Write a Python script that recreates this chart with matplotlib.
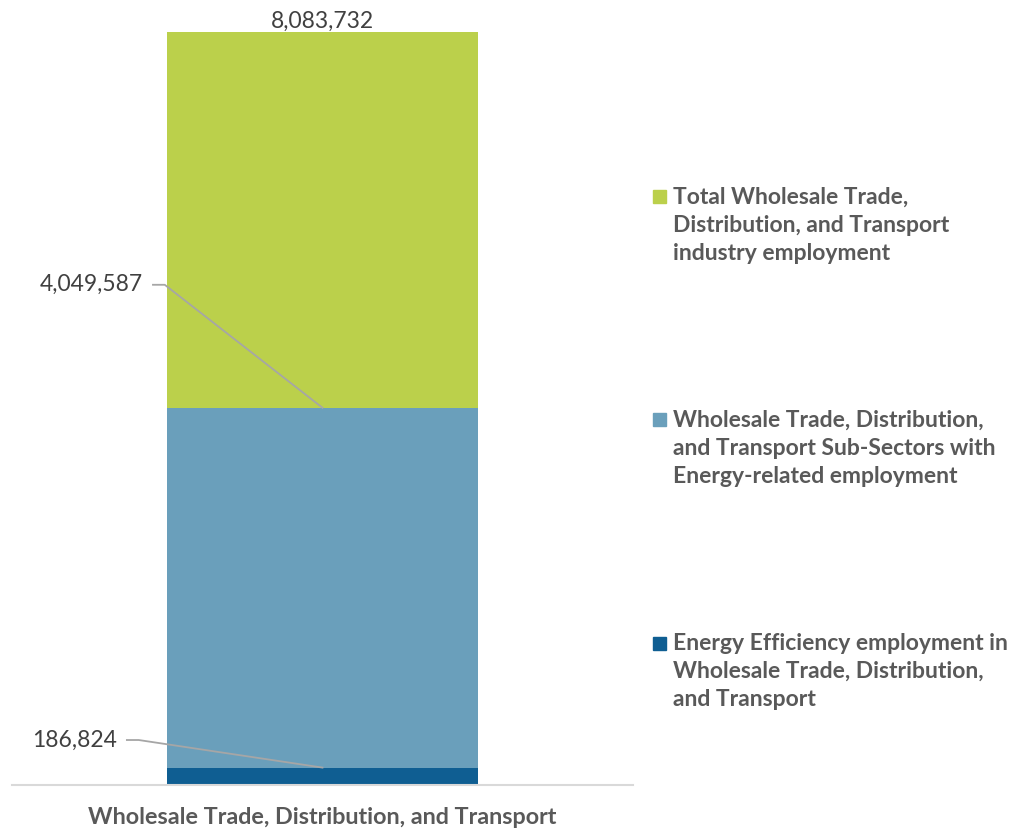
import numpy as np
import matplotlib.pyplot as plt
from matplotlib.patches import Rectangle

plt.rcParams['font.family'] = ['Lato', 'DejaVu Sans']

category = "Wholesale Trade, Distribution, and Transport"
# cumulative totals shown on the chart
ee_total = 186824
energy_total = 4049587
industry_total = 8083732

series_names = [
    "Total Wholesale Trade,\nDistribution, and Transport\nindustry employment",
    "Wholesale Trade, Distribution,\nand Transport Sub-Sectors with\nEnergy-related employment",
    "Energy Efficiency employment in\nWholesale Trade, Distribution,\nand Transport",
]
colors = ["#bbd04b", "#6a9fbb", "#0f5e92"]

# stacked segments (bottom to top)
seg_ee = ee_total
seg_energy = energy_total - ee_total
seg_rest = industry_total - energy_total

fig = plt.figure(figsize=(10.26, 8.30), dpi=100)
ax = fig.add_axes([12 / 1026, 45 / 830, 621 / 1026, 753 / 830])

ax.bar(0, seg_ee, width=0.5, color=colors[2])
ax.bar(0, seg_energy, bottom=seg_ee, width=0.5, color=colors[1])
ax.bar(0, seg_rest, bottom=energy_total, width=0.5, color=colors[0])

ax.set_xlim(-0.5, 0.5)
ax.set_ylim(0, industry_total)
for s in ["top", "right", "left"]:
    ax.spines[s].set_visible(False)
ax.spines["bottom"].set_color("#d9d9d9")
ax.spines["bottom"].set_linewidth(1.5)
ax.set_yticks([])
ax.set_xticks([0])
ax.set_xticklabels([category], fontsize=16.8, color="#595959", fontweight="bold")
ax.tick_params(axis="x", length=0, pad=16)

val_kw = dict(fontsize=16.5, color="#404040", clip_on=False)
ax.text(0, industry_total, f"{industry_total:,}", ha="center", va="bottom", **val_kw)


def leader(value, lx, ly):
    # label on the left, short horizontal tick, then a line down to the bar centre
    ax.text(lx, ly, f"{value:,}", ha="right", va="center", **val_kw)
    ax.plot([lx + 0.016, lx + 0.035, 0], [ly, ly, value], color="#a6a6a6",
            lw=1.3, clip_on=False, solid_joinstyle="round")


leader(energy_total, -0.289, 5.37e6)
leader(ee_total, -0.331, 0.483e6)

# legend, drawn by hand to match spacing
legend_y = [197, 420, 643]
for name, c, y in zip(series_names, colors, legend_y):
    fig.patches.append(Rectangle((653 / 1026, (830 - y - 6.5) / 830), 13 / 1026, 13 / 830,
                                 transform=fig.transFigure, color=c))
    fig.text(673 / 1026, (830 - y + 10) / 830, name, ha="left", va="top",
             fontsize=16.5, color="#595959", fontweight="bold", linespacing=1.42)

fig.savefig("out.png", dpi=100)
